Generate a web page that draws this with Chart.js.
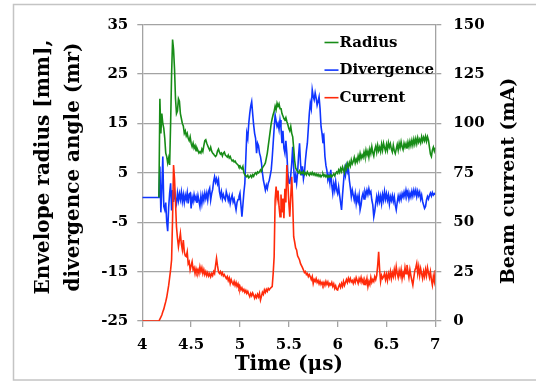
<!DOCTYPE html>
<html><head><meta charset="utf-8">
<script src="https://cdn.jsdelivr.net/npm/chart.js@4.4.0/dist/chart.umd.min.js"></script>
<style>html,body{margin:0;padding:0;background:#fff;overflow:hidden}#wrap{width:536px;height:381px;position:relative}</style>
</head><body><div id="wrap"><canvas id="c" width="536" height="381"></canvas></div>
<script>
// Sampling of the time axis (µs)
const T_START = 4, T_STEP = 0.01;
const seriesNames = ['Radius', 'Divergence', 'Current'];
const seriesColors = ['#178c17', '#0f35ff', '#ff2a0a'];
const xTicks = [4, 4.5, 5, 5.5, 6, 6.5, 7];
const leftTicks = [-25, -15, -5, 5, 15, 25, 35];
const rightTicks = [0, 25, 50, 75, 100, 125, 150];
const leftTitle = ['Envelope radius [mm],', 'divergence angle (mr)'];
const rightTitle = 'Beam current (mA)';
const xTitle = 'Time (\u03bcs)';

// Envelope radius [mm] (left axis)
const radius = [
 null,null,null,null,null,null,null,null,null,null,
 null,null,null,null,null,null,null,0,20,13,
 17,15,14,12,9,8.3,7,8,6.6,15,
 25,32,30,26,20,17,17.5,20,19.5,17,
 16,15,14.5,13,13.5,12.5,13,12,11.5,12.3,
 11,10.3,11,10,10.5,9.5,10,9.5,9,9.3,
 9,9.8,9.3,10.5,11.5,11.7,11,10.5,10,9.6,
 10.2,9.4,9,8.8,8.5,8.3,8.6,9.4,9.8,9.2,
 8.8,9,8.4,9,9.2,8.6,8.4,8.2,8.6,8,
 8.3,7.8,7.4,7.6,7.2,7.4,7,6.8,6.6,6.2,
 6.4,6,5.8,6.3,5,4.6,4.4,4.2,4.5,4,
 4.2,4.5,4.1,4.6,4.3,4.8,5,4.7,5.2,5,
 5.2,5.6,5.3,6,6.3,6.6,7,8,9,10.5,
 12,13.5,15,16,16.8,17.5,18.5,17.8,19.1,18.5,
 19,18,18.1,17,16.5,16,15.7,16.2,15.4,14.8,
 14,13.5,14.4,13,12.3,10,7.5,6,5.6,5.2,
 5,5.4,4.8,5.1,4.9,5.3,4.7,5,4.6,5.2,
 4.8,4.5,5,4.7,5.1,4.6,4.9,4.5,4.8,4.4,
 4.7,4.3,4.6,4.2,4.5,4.8,4.3,4.6,4.2,4.5,
 4.1,4.4,4.2,4.6,4.2,4.5,4.8,4.4,4.9,5.2,
 4.9,5.6,5.1,5.9,5.3,6.2,5.6,5,6.4,5.8,
 6.9,6.2,7.1,6.4,7.6,6.8,7.3,8.1,7,7.8,
 7.2,8.4,7.6,8.9,7.9,8.6,8.1,9.2,8.3,9.6,
 8.6,9.4,8.2,9.8,8.9,10.3,9.1,8.4,9.7,10.4,
 9.2,10.6,9.5,10.2,9.3,10.8,9.6,11,10.1,9.4,
 10.7,9.6,11.1,10.2,10.9,9.8,9.2,10.6,9.5,8.9,
 9.8,10.7,9.6,11,10.1,11.3,10.3,9.7,11,10.2,
 10.9,9.9,11.2,10.3,11.4,10.5,11.6,10.6,11.8,10.8,
 11.9,10.9,12.1,11.2,11.8,11.1,12.3,11.4,12.2,11.5,
 12.4,11.4,12.3,11.6,10.2,8.8,8.3,9.6,10.2,9.4,
 10.1
];

// Divergence angle [mr] (left axis)
const divergence = [
 0,0,0,0,0,0,0,0,0,0,
 0,0,0,0,0,0,0,0,6.3,-3,
 2,8.3,-1.8,-2.5,-1,-4.9,-6.8,-2,0.9,2.9,
 -2.6,1.5,-0.9,1.2,-0.3,-1.2,0.9,-0.6,0.8,-0.4,
 1.1,-0.8,0.6,-1,0.5,-0.4,1,-1.2,0.7,0.9,
 -2.2,0.1,-0.8,0.6,-0.5,0.2,-1.1,0.4,-0.7,-1.8,
 0.3,-1.2,0.5,-0.6,0.9,-0.2,0.9,-0.5,1.3,1.9,
 -0.5,0.8,1.6,3.2,4.2,3.1,3.8,2.8,3.6,1.2,
 0.2,1.2,-0.3,0.6,-0.1,-0.5,1.2,0.4,-0.6,0.3,
 -1.2,-0.2,0.5,-0.9,-0.3,-1.4,-2.5,-1,-0.4,0.2,
 0.9,-1.5,-3.9,-1.5,1,2.9,8,13,12,15,
 17,18.5,19.4,17,14.7,13,12,9,11,10.5,
 9,8.3,7,5,3.5,2.5,1.5,2.5,1.8,2.9,
 3.5,4.5,5.6,8,11,14,16.7,15.5,14.4,15,
 13.8,15.7,14.2,11,13.5,10,9,11.5,9,5,
 3,2.9,4.5,7,10.3,6,3,4.5,2.9,5,
 8.5,11,7,4.5,6.3,3.8,5,7.5,9.5,11,
 14,17,19.1,18,21.8,20.5,19.8,21.2,20.2,18.7,
 19.5,20.4,18,14.4,13,11,12,8.3,6.5,5.5,
 3.6,4.5,3,5.6,2.5,0.9,2.8,1.5,3.2,1.5,
 0.8,2.2,0.5,-1,-2.5,0.5,3,5.6,4.5,6.3,
 5.2,6,3.5,2,0.2,1.5,0.5,-0.5,0.8,-1.2,
 0.2,-0.8,0.5,-2.5,-1.5,0.2,0.9,-0.3,1.2,0.5,
 1.5,0.6,1.8,0.8,1.2,-0.5,-1.5,-3.9,-2.8,-1.2,
 0.2,-1,0.5,-0.8,0.3,-1.2,0.6,-0.5,1.2,-0.3,
 0.8,-0.5,0.5,-1.3,0.2,-0.6,0.4,-0.8,0.2,-1.5,
 -2.5,-1,0.3,-0.6,0.5,-0.4,0.8,0.1,1.1,0.2,
 1.5,0.4,1.2,-0.2,0.9,0.1,1.3,0.3,1.5,0.6,
 1.5,0.2,1.3,0.4,1.1,-0.3,0.5,-0.8,-1.5,-2.2,
 -1.8,-0.5,0.2,-0.3,0.4,0.9,0.3,1,0.5,0.8,
 0.6
];

// Beam current [mA] (right axis)
const current = [
 0,0,0,0,0,0,0,0,0,0,
 0,0,0,0,0,0,0,0,1,2,
 3,4.7,6,8,9.8,12,15,18,22,26,
 31,52,79,72,60,47.7,42,37.6,41,44.4,
 39,36,41,35,33,32.6,35,29,30,25.8,
 28,30,26,27,24,26.5,24.5,26,24,27.5,
 25,27,24,26,23.5,25,23,24.5,22.8,24,
 22.4,24,23,25,24,28,31.7,28,25,24.1,
 25,23.5,24.5,22.8,23.5,22.4,21.5,22.5,20.5,21.8,
 19,21,19.5,18.5,20,18,19.5,17.5,18.8,16.5,
 17.5,15.7,16.8,15.2,16,14.5,15.5,14,15,13.5,
 12.3,14,12.8,14.2,13,11.5,13,11.8,13.5,12.2,
 14,10.6,12.5,14.5,13.5,15.7,14.5,16,15,16.5,
 15.8,16.5,17,17.4,24,32.6,61.3,68,62,66,
 58,52.8,64,55,62,52,67,60,79,70,
 60,52.8,63,73,60,42.7,40,37,36,33,
 32,30.9,29,28,27,25.8,24.5,25,23.5,24,
 22.5,23.5,22.4,21,22.5,19,21,20,21.5,19.5,
 20.5,18.8,20.2,18.5,19.6,18.2,19.5,18,20,18.5,
 19.8,17.8,19,18.2,19.5,17.5,18.8,16.5,17.8,16,
 15.7,17.5,18.5,17,19,17.5,20,18,19.5,21,
 19.5,21.6,20,21.5,19.8,20.5,19,21,19.5,22,
 20.5,19,21.5,20,22,19.5,21,18.5,20.5,19,
 21.5,17.4,20,18.5,22,19.5,21,20,22.5,21,
 23,28,35,26,20,23,21.5,22.4,24,21,
 23.5,20.5,24,22,25,21.5,24.5,22.5,26,23,
 27.5,24,22,25.5,23,26,21.5,24.5,22.5,27,
 24,28.4,25,22,26,23,20.5,18.2,22,25.5,
 27,29.2,24,27.5,23,26.5,24,21.5,25,22.5,
 26,23,27,24.5,22,25,21,18.2,22.5,20,
 25.8
];

function toPoints(vals) {
  return vals.map((v, i) => ({ x: Math.round((T_START + i * T_STEP) * 100) / 100, y: v }));
}

const FONT = "'DejaVu Serif', serif";
const GRID = '#a3a3a3';

const decorPlugin = {
  id: 'decor',
  beforeDraw(chart) {
    const ctx = chart.ctx;
    ctx.save();
    ctx.fillStyle = '#ffffff';
    ctx.fillRect(0, 0, chart.width, chart.height);
    ctx.strokeStyle = '#c4c4c4';
    ctx.lineWidth = 1.5;
    ctx.strokeRect(13.5, 4.5, 560, 375.5);
    ctx.restore();
  },
  afterDraw(chart) {
    const ctx = chart.ctx;
    ctx.save();
    ctx.fillStyle = '#000';
    ctx.textAlign = 'center';
    ctx.textBaseline = 'middle';
    ctx.font = "bold 20px " + FONT;
    const lx = [44, 74];
    leftTitle.forEach((line, i) => {
      ctx.save();
      ctx.translate(lx[i], 167);
      ctx.rotate(-Math.PI / 2);
      ctx.fillText(line, 0, 0);
      ctx.restore();
    });
    ctx.font = "bold 19px " + FONT;
    ctx.save();
    ctx.translate(509, 181);
    ctx.rotate(-Math.PI / 2);
    ctx.fillText(rightTitle, 0, 0);
    ctx.restore();
    ctx.font = "bold 15px " + FONT;
    ctx.textAlign = 'left';
    chart.data.datasets.forEach((ds, i) => {
      const y = 43 + i * 27.6;
      ctx.strokeStyle = ds.borderColor;
      ctx.lineWidth = 1.6;
      ctx.beginPath();
      ctx.moveTo(324.5, y - 0.5);
      ctx.lineTo(338.5, y - 0.5);
      ctx.stroke();
      ctx.fillStyle = '#000';
      ctx.fillText(ds.label, 339.5, y);
    });
    ctx.restore();
  }
};

const tickFont = { family: FONT, size: 15, weight: 'bold' };

new Chart(document.getElementById('c'), {
  type: 'line',
  data: {
    datasets: [
      { label: seriesNames[0], data: toPoints(radius), borderColor: seriesColors[0], yAxisID: 'y', order: 0 },
      { label: seriesNames[1], data: toPoints(divergence), borderColor: seriesColors[1], yAxisID: 'y', order: 2 },
      { label: seriesNames[2], data: toPoints(current), borderColor: seriesColors[2], yAxisID: 'y2', order: 1 }
    ]
  },
  options: {
    responsive: false,
    animation: false,
    devicePixelRatio: 1,
    elements: { point: { radius: 0 }, line: { borderWidth: 1.6, tension: 0 } },
    layout: { padding: { top: 24.7, left: 0, right: 0, bottom: 0 } },
    plugins: { legend: { display: false }, tooltip: { enabled: false } },
    scales: {
      x: {
        type: 'linear', min: 4, max: 7,
        afterBuildTicks: s => { s.ticks = xTicks.map(v => ({ value: v })); },
        afterFit: s => { s.height = 60; },
        ticks: { font: tickFont, color: '#000', padding: 9.5, maxRotation: 0, callback: v => String(v) },
        grid: { drawOnChartArea: false, drawTicks: true, tickLength: 6, color: GRID, lineWidth: 1.3 },
        border: { display: true, color: GRID, width: 1.3 },
        title: { display: true, text: xTitle, color: '#000', font: { family: FONT, size: 20, weight: 'bold' }, padding: { top: 0, bottom: 4 } }
      },
      y: {
        type: 'linear', position: 'left', min: -25, max: 35,
        afterBuildTicks: s => { s.ticks = leftTicks.map(v => ({ value: v })); },
        afterFit: s => { s.width = 142.3; },
        ticks: { font: tickFont, color: '#000', padding: 9 },
        grid: { color: GRID, lineWidth: 1.3, tickLength: 5, drawTicks: true },
        border: { display: true, color: GRID, width: 1.3 }
      },
      y2: {
        type: 'linear', position: 'right', min: 0, max: 150,
        afterBuildTicks: s => { s.ticks = rightTicks.map(v => ({ value: v })); },
        afterFit: s => { s.width = 100.7; },
        ticks: { font: tickFont, color: '#000', padding: 12 },
        grid: { drawOnChartArea: false, drawTicks: true, tickLength: 6, color: GRID, lineWidth: 1.3 },
        border: { display: true, color: GRID, width: 1.3 }
      }
    }
  },
  plugins: [decorPlugin]
});
</script>
</body></html>
